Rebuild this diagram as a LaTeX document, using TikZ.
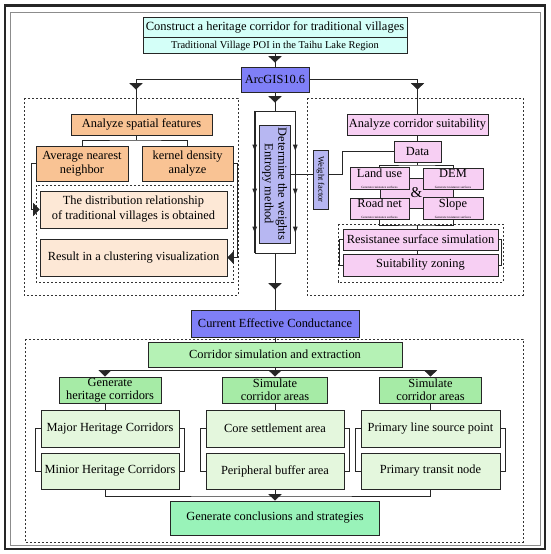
\documentclass[tikz,border=0pt]{standalone}
\usepackage{fontspec}
\setmainfont{Liberation Serif}
\usepackage{xcolor}
\usetikzlibrary{arrows.meta, positioning, calc, decorations.markings}

\definecolor{aquafill}{HTML}{D4FFF8}
\definecolor{gisblue}{HTML}{7F7FF7}
\definecolor{wtblue}{HTML}{B7B7F2}
\definecolor{orangefill}{HTML}{F9C394}
\definecolor{peachfill}{HTML}{FDE8D6}
\definecolor{pinkfill}{HTML}{F7CFF3}
\definecolor{simgreen}{HTML}{B5F2B5}
\definecolor{gengreen}{HTML}{A6EBA6}
\definecolor{palegreen}{HTML}{E4F7DD}
\definecolor{mintfill}{HTML}{99F3B9}

\newcommand{\resnote}{\\[-2.5pt]{\fontsize{3.2}{3.5}\selectfont Generate resistance surfaces}}

\begin{document}
\begin{tikzpicture}[x=1pt, y=-1pt,
    box/.style    = {rectangle, draw=black!85, line width=0.6pt, inner sep=1pt,
                     align=center, font=\fontsize{12.4}{13.5}\selectfont},
    grp/.style    = {draw=black!80, line width=0.7pt, dash pattern=on 2.4pt off 1.6pt},
    wire/.style   = {draw=black!85, line width=0.7pt},
    arr/.style    = {wire, -{Triangle[width=13pt,length=6.5pt]}},
    midarr/.style = {wire, postaction={decorate}, decoration={markings,
                     mark=at position #1 with {\arrow{Triangle[width=13pt,length=6.5pt]}}}},
    sidearr/.style = {wire, postaction={decorate}, decoration={markings,
                     mark=at position 40pt with {\arrow{Triangle[width=4.5pt,length=6pt]}},
                     mark=at position 84pt with {\arrow{Triangle[width=4.5pt,length=6pt]}},
                     mark=at position 122pt with {\arrow{Triangle[width=4.5pt,length=6pt]}}}}
]
  \useasboundingbox (0,0) rectangle (550,554);

  % frame
  \draw[line width=2.4pt, black!85] (4.7,5.3) rectangle (544.7,548.7);
  \draw[line width=0.8pt, black!45] (10,12) rectangle (540,545);

  % dashed groups
  \draw[grp] (24,98) rectangle (238,295);
  \draw[grp] (307,98) rectangle (523,295);
  \draw[grp] (36,185) rectangle (233,282);
  \draw[grp] (338,224) rectangle (503,282);
  \draw[grp] (25,339) rectangle (523,542);

  % top
  \node[box, fill=aquafill, minimum width=264pt, minimum height=20pt,
        font=\fontsize{12.5}{13}\selectfont] (title) at (275,27)
        {Construct a heritage corridor for traditional villages};
  \node[box, fill=aquafill, minimum width=264pt, minimum height=16pt,
        font=\fontsize{10.5}{12}\selectfont, below=0pt of title] (poi)
        {Traditional Village POI in the Taihu Lake Region};
  \node[box, fill=gisblue, minimum width=68pt, minimum height=25pt] (gis) at (275,79.5) {ArcGIS10.6};

  % left panel
  \node[box, fill=orangefill, minimum width=141pt, minimum height=21pt] (spatial) at (141.5,124.5) {Analyze spatial features};
  \node[box, fill=orangefill, minimum width=92pt, minimum height=35pt] (avg) at (82,163.5) {Average nearest\\neighbor};
  \node[box, fill=orangefill, minimum width=91pt, minimum height=35pt] (kde) at (187.5,163.5) {kernel density\\analyze};
  \node[box, fill=peachfill, minimum width=187pt, minimum height=37pt,
        font=\fontsize{12.4}{15}\selectfont] (dist) at (133.5,209.5)
        {The distribution relationship\\of traditional villages is obtained};
  \node[box, fill=peachfill, minimum width=187pt, minimum height=37pt] (result) at (133.5,257.5) {Result in a clustering visualization};

  % centre column
  \node[box, fill=white, minimum width=40pt, minimum height=142pt] (wbox) at (275,182) {};
  \node[box, fill=wtblue, rotate=-90, minimum width=118pt, minimum height=31pt] (weights) at (274.5,184)
        {Determine the weights\\Entropy method};
  \node[box, fill=wtblue, rotate=-90, minimum width=59pt, minimum height=15pt,
        font=\fontsize{8.5}{9}\selectfont] (wfac) at (320.5,179.5) {Weight factor};

  % right panel
  \node[box, fill=pinkfill, minimum width=141pt, minimum height=21pt] (corridor) at (417.5,124.5) {Analyze corridor suitability};
  \node[box, fill=pinkfill, minimum width=47pt, minimum height=21pt] (data) at (417.5,151.5) {Data};
  \node[box, fill=pinkfill, minimum width=73pt, minimum height=30pt,
        font=\fontsize{15}{15}\selectfont] (amp) at (416.5,193) {\&};
  \node[box, fill=pinkfill, minimum width=59pt, minimum height=21pt] (landuse) at (379.5,178.5) {Land use\resnote};
  \node[box, fill=pinkfill, minimum width=60pt, minimum height=21pt] (dem) at (453,178.5) {DEM\resnote};
  \node[box, fill=pinkfill, minimum width=59pt, minimum height=21pt, below=8pt of landuse] (roadnet) {Road net\resnote};
  \node[box, fill=pinkfill, minimum width=60pt, minimum height=21pt, below=8pt of dem] (slope) {Slope\resnote};
  \node[box, fill=pinkfill, minimum width=155pt, minimum height=21pt] (resist) at (420.5,239.5) {Resistanee surface simulation};
  \node[box, fill=pinkfill, minimum width=155pt, minimum height=22pt] (zoning) at (420.5,265) {Suitability zoning};

  % lower part
  \node[box, fill=gisblue, minimum width=168pt, minimum height=27pt] (cec) at (275,323.5) {Current Effective Conductance};
  \node[box, fill=simgreen, minimum width=254pt, minimum height=25pt] (corrsim) at (275,354.5) {Corridor simulation and extraction};
  \node[box, fill=gengreen, minimum width=102pt, minimum height=26pt] (gencor) at (110,390) {Generate\\heritage corridors};
  \node[box, fill=gengreen, minimum width=105pt, minimum height=26pt] (simcore) at (275,390) {Simulate\\corridor areas};
  \node[box, fill=gengreen, minimum width=102pt, minimum height=26pt] (simsrc) at (430.5,390) {Simulate\\corridor areas};
  \node[box, fill=palegreen, minimum width=138pt, minimum height=37pt] (major) at (110,428.5) {Major Heritage Corridors};
  \node[box, fill=palegreen, minimum width=138pt, minimum height=36pt] (minor) at (110,471) {Minior Heritage Corridors};
  \node[box, fill=palegreen, minimum width=138pt, minimum height=37pt] (core) at (275,428.5) {Core settlement area};
  \node[box, fill=palegreen, minimum width=138pt, minimum height=36pt] (buffer) at (275,471) {Peripheral buffer area};
  \node[box, fill=palegreen, minimum width=139pt, minimum height=37pt] (srcpt) at (430.5,428.5) {Primary line source point};
  \node[box, fill=palegreen, minimum width=139pt, minimum height=36pt] (transit) at (430.5,471) {Primary transit node};
  \node[box, fill=mintfill, minimum width=209pt, minimum height=34pt] (concl) at (275,518) {Generate conclusions and strategies};

  % from the top
  \draw[midarr=-4pt] (poi) -- (gis);
  \draw[midarr=-24pt] (gis.west) -| ([xshift=-5.5pt]spatial.north);
  \draw[midarr=-24pt] (gis.east) -| (corridor.north);
  \draw[midarr=-8pt] (gis) -- (wbox);

  % left panel
  \coordinate (lsplit) at (136,140);
  \draw[wire] (spatial.south -| lsplit) -- (lsplit);
  \draw[wire] (avg.north) |- (lsplit) -| (kde.north);
  \draw[arr] (avg.west) -- ++(-4,0) |- (dist.west);
  \draw[arr] (kde.east) -- ++(4,0) |- (result.east);

  % weights
  \draw[sidearr] (wbox.north west) -- (wbox.south west);
  \draw[sidearr] (wbox.north east) -- (wbox.south east);
  \coordinate (wlink) at (342,174);
  \draw[wire] (weights.north |- wlink) -- (wfac.south |- wlink);
  \draw[wire] (wfac.north |- wlink) -- (wlink) |- (data.west);

  % right panel
  \coordinate (dsplit) at (417.5,165);
  \coordinate (rjoin) at (417.5,225);
  \draw[wire] (corridor) -- (data);
  \draw[wire] (data) -- (dsplit);
  \draw[wire] (landuse.north) |- (dsplit) -| (dem.north);
  \draw[wire] (roadnet.south) |- (rjoin) -| (slope.south);
  \draw[wire] (rjoin) -- (resist.north -| rjoin);
  \draw[wire] (resist.south -| rjoin) -- (zoning.north -| rjoin);
  \draw[wire] (resist.west) -- ++(-3,0) |- (zoning.west);
  \draw[wire] (resist.east) -- ++(3,0) |- (zoning.east);

  % lower part
  \coordinate (csplit) at (275,370);
  \coordinate (bjoin) at (275,496);
  \draw[midarr=-20pt] (wbox) -- (cec);
  \draw[wire] (cec) -- (corrsim);
  \draw[wire] (corrsim) -- (csplit);
  \draw[arr] (csplit) -- (simcore.north);
  \draw[arr] (csplit) -| ([xshift=-5pt]gencor.north);
  \draw[arr] (csplit) -| (simsrc.north);
  \draw[wire] ([xshift=-5pt]gencor.south) -- ([xshift=-5pt]major.north);
  \draw[wire] (simcore) -- (core);
  \draw[wire] (simsrc) -- (srcpt);
  \foreach \a/\b in {major/minor, core/buffer, srcpt/transit} {
    \draw[wire] (\a.west) -- ++(-5.5,0) |- (\b.west);
    \draw[wire] (\a.east) -- ++(5.5,0) |- (\b.east);
  }
  \draw[wire] ([xshift=-5pt]minor.south) |- (bjoin) -| (transit.south);
  \draw[arr] (buffer) -- (concl);
\end{tikzpicture}
\end{document}
